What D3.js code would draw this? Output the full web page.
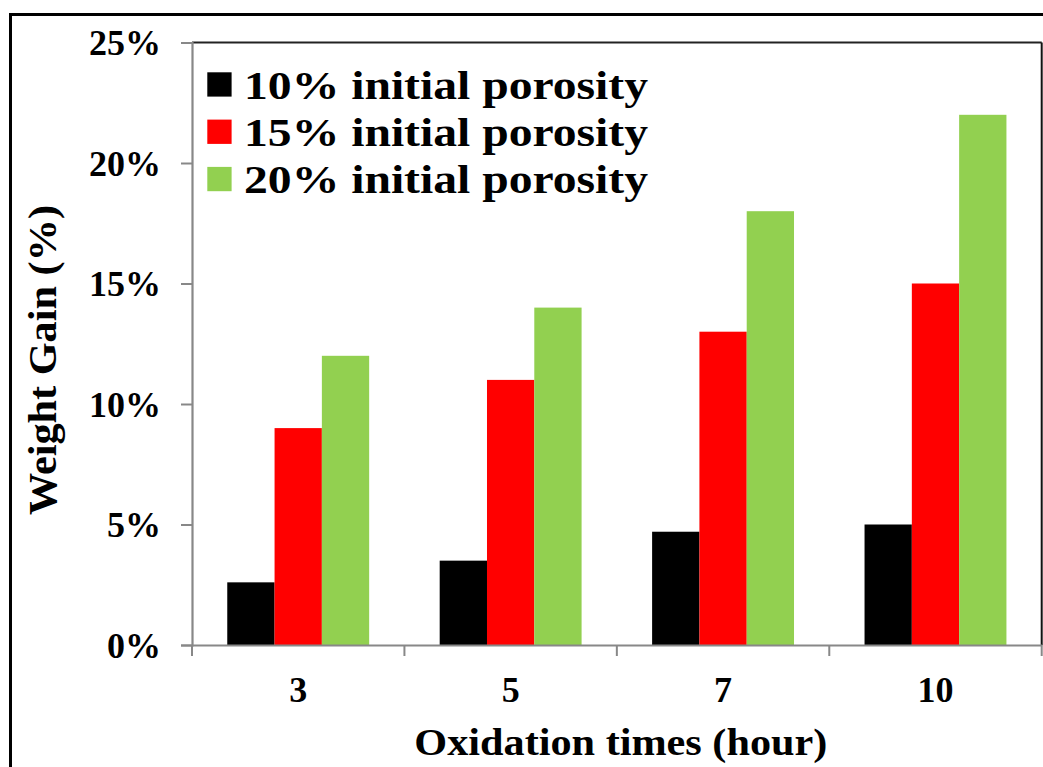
<!DOCTYPE html>
<html>
<head>
<meta charset="utf-8">
<script src="https://cdn.jsdelivr.net/npm/d3@7"></script>
<style>
  html, body { margin: 0; padding: 0; background: #fff; overflow: hidden; }
  svg { display: block; }
  text { font-family: "Times New Roman", "Liberation Serif", Tinos, Times, serif; font-weight: bold; fill: #000; }
</style>
</head>
<body>
<svg id="chart" width="1043" height="767"></svg>
<script>
const categories = ["3", "5", "7", "10"];
const seriesNames = ["10% initial porosity", "15% initial porosity", "20% initial porosity"];
const porosity10 = [0.026, 0.035, 0.047, 0.050];
const porosity15 = [0.090, 0.110, 0.130, 0.150];
const porosity20 = [0.120, 0.140, 0.180, 0.220];
const seriesColors = ["#000000", "#ff0000", "#92d050"];
const yTicks = [0, 0.05, 0.10, 0.15, 0.20, 0.25];
const xTitle = "Oxidation times (hour)";
const yTitle = "Weight Gain (%)";

const seriesValues = [porosity10, porosity15, porosity20];
const FONT = '"Times New Roman", "Liberation Serif", Tinos, Times, serif';

const svg = d3.select("#chart");
const pLeft = 192, pRight = 1041.7, pTop = 42.5, pBottom = 645;

// outer frame
svg.append("rect").attr("x", 10.5).attr("y", 14.5).attr("width", 1050).attr("height", 800)
  .attr("fill", "none").attr("stroke", "#000").attr("stroke-width", 3);

const x = d3.scaleBand().domain(categories).range([pLeft, pRight]).paddingInner(0.332).paddingOuter(0.166);
const xs = d3.scaleBand().domain(d3.range(seriesNames.length)).range([0, x.bandwidth()]).padding(0);
const y = d3.scaleLinear().domain([0, 0.25]).range([pBottom, pTop]);

// plot frame top/right
svg.append("line").attr("x1", pLeft).attr("x2", pRight).attr("y1", pTop).attr("y2", pTop)
  .attr("stroke", "#222").attr("stroke-width", 2);
svg.append("line").attr("x1", pRight).attr("x2", pRight).attr("y1", pTop).attr("y2", pBottom)
  .attr("stroke", "#111").attr("stroke-width", 2);

// bars
const groups = svg.append("g").selectAll("g").data(categories).join("g")
  .attr("transform", c => `translate(${x(c)},0)`);
groups.selectAll("rect").data((c, i) => seriesValues.map((s, k) => ({k, v: s[i]}))).join("rect")
  .attr("x", d => xs(d.k)).attr("width", xs.bandwidth())
  .attr("y", d => y(d.v)).attr("height", d => pBottom - y(d.v))
  .attr("fill", d => seriesColors[d.k]);

// y axis
const yAxis = d3.axisLeft(y).tickValues(yTicks).tickFormat(d3.format(".0%")).tickSize(11).tickPadding(20);
const gy = svg.append("g").attr("transform", `translate(${pLeft},0)`).call(yAxis);
gy.attr("font-family", null);
gy.select(".domain").attr("stroke", "#888").attr("stroke-width", 2.2);
gy.selectAll(".tick line").attr("stroke", "#888").attr("stroke-width", 2);
gy.selectAll(".tick text").style("font-size", "36px").style("font-family", FONT).style("font-weight", "bold").attr("fill", "#000").attr("dy", "0.34em");

// x axis
const xAxis = d3.axisBottom(x).tickSize(0).tickPadding(0);
const gx = svg.append("g").attr("transform", `translate(0,${pBottom})`).call(xAxis);
gx.attr("font-family", null);
gx.select(".domain").attr("stroke", "#888").attr("stroke-width", 2.2);
gx.selectAll(".tick text").style("font-size", "36px").style("font-family", FONT).style("font-weight", "bold").attr("fill", "#000").attr("dy", null).attr("y", 57);
// boundary ticks
const bounds = d3.range(categories.length + 1).map(i => pLeft + i * x.step());
gx.selectAll(".bound").data(bounds).join("line").attr("class", "bound")
  .attr("x1", d => d).attr("x2", d => d).attr("y1", 0).attr("y2", 11)
  .attr("stroke", "#888").attr("stroke-width", 2);

// axis titles
svg.append("text").attr("x", (pLeft + pRight) / 2 + 4).attr("y", 755).attr("text-anchor", "middle")
  .style("font-size", "38px").attr("textLength", 413).attr("lengthAdjust", "spacingAndGlyphs").text(xTitle);
svg.append("text").attr("transform", "translate(56,360) rotate(-90)").attr("text-anchor", "middle")
  .style("font-size", "40px").attr("textLength", 310).attr("lengthAdjust", "spacingAndGlyphs").text(yTitle);

// legend
const lg = svg.append("g");
seriesNames.forEach((name, i) => {
  const yy = 72.3 + i * 47.3;
  lg.append("rect").attr("x", 207.3).attr("y", yy).attr("width", 24.3).attr("height", 24.3).attr("fill", seriesColors[i]);
  lg.append("text").attr("x", 244).attr("y", yy + 26.4).style("font-size", "41px")
    .attr("textLength", 404).attr("lengthAdjust", "spacingAndGlyphs").text(name);
});
</script>
</body>
</html>
